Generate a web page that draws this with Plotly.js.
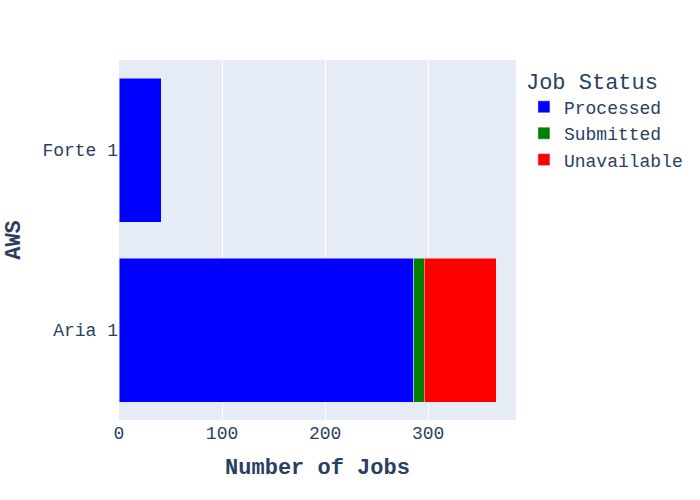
<!DOCTYPE html>
<html>
<head>
<meta charset="utf-8">
<script src="https://cdn.plot.ly/plotly-3.0.1.min.js"></script>
<style>
  body { margin: 0; }
  #chart { width: 700px; height: 500px; }
</style>
</head>
<body>
<div id="chart"></div>
<script>
const machines = ['Aria 1', 'Forte 1'];
const processed = [286, 41];
const submitted = [10, 0];
const unavailable = [70, 0];

const font = '"Liberation Mono", "Courier New", monospace';

const makeTrace = (name, values, color) => ({
  type: 'bar',
  orientation: 'h',
  name,
  y: machines,
  x: values,
  marker: { color, line: { color: '#E5ECF6', width: 0.5 } },
});

const traces = [
  makeTrace('Processed', processed, 'blue'),
  makeTrace('Submitted', submitted, 'green'),
  makeTrace('Unavailable', unavailable, 'red'),
];

const layout = {
  width: 700,
  height: 500,
  barmode: 'stack',
  paper_bgcolor: 'white',
  plot_bgcolor: '#E5ECF6',
  font: { family: font, size: 18, color: '#2a3f5f' },
  margin: { l: 119, r: 184, t: 60, b: 80 },
  xaxis: {
    title: { text: '<b>Number of Jobs</b>', font: { size: 22 }, standoff: 15 },
    gridcolor: 'white',
    zeroline: false,
    ticks: '',
  },
  yaxis: {
    title: { text: '<b>AWS</b>', font: { size: 22 }, standoff: 15 },
    ticks: '',
  },
  legend: {
    title: { text: 'Job Status', font: { size: 22 } },
    font: { size: 18 },
    traceorder: 'normal',
  },
};

Plotly.newPlot('chart', traces, layout, { displayModeBar: false });
</script>
</body>
</html>
